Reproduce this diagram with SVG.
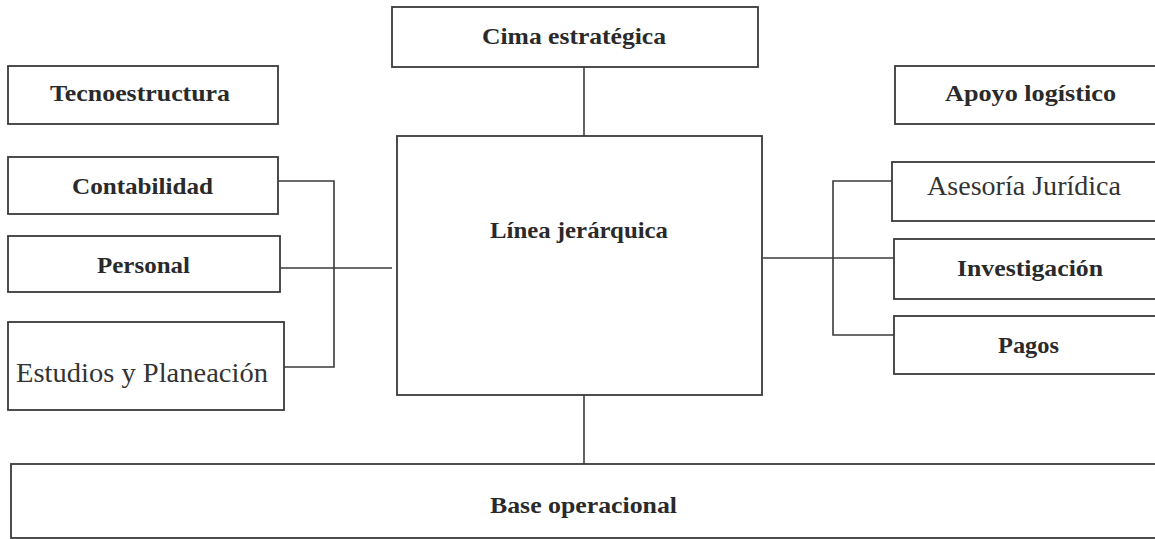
<svg xmlns="http://www.w3.org/2000/svg" width="1155" height="539" viewBox="0 0 1155 539">
<style>
.box{fill:#fff;stroke:#3a3a3a;stroke-width:1.8}
.ln{fill:none;stroke:#3a3a3a;stroke-width:1.6}
.b{font-family:"Liberation Serif",serif;font-weight:bold;font-size:24px;fill:#2a2a2a;text-anchor:middle}
.r{font-family:"Liberation Serif",serif;font-size:27px;fill:#333;text-anchor:middle}
</style>
<rect width="1155" height="539" fill="#fff"/>
<g id="connectors">
<path class="ln" d="M584,67V136"/>
<path class="ln" d="M584,395V464"/>
<path class="ln" d="M278,181H334V367H284"/>
<path class="ln" d="M280,268H392"/>
<path class="ln" d="M892,181H833V335H894"/>
<path class="ln" d="M763,258H897"/>
</g>
<g id="cima"><rect class="box" x="392" y="7" width="366" height="60"/><text class="b" x="574" y="44" textLength="184" lengthAdjust="spacingAndGlyphs">Cima estratégica</text></g>
<g id="tecnoestructura"><rect class="box" x="8" y="66" width="270" height="58"/><text class="b" x="140" y="101" textLength="180" lengthAdjust="spacingAndGlyphs">Tecnoestructura</text></g>
<g id="apoyo"><rect class="box" x="895" y="66" width="280" height="58"/><text class="b" x="1030.5" y="101" textLength="171" lengthAdjust="spacingAndGlyphs">Apoyo logístico</text></g>
<g id="contabilidad"><rect class="box" x="8" y="157" width="270" height="57"/><text class="b" x="142.5" y="194" textLength="141" lengthAdjust="spacingAndGlyphs">Contabilidad</text></g>
<g id="personal"><rect class="box" x="8" y="236" width="272" height="56"/><text class="b" x="143.5" y="273" textLength="93" lengthAdjust="spacingAndGlyphs">Personal</text></g>
<g id="estudios"><rect class="box" x="8" y="322" width="276" height="88"/><text class="r" x="142" y="382" textLength="252" lengthAdjust="spacingAndGlyphs">Estudios y Planeación</text></g>
<g id="linea"><rect class="box" x="397" y="136" width="365" height="259"/><text class="b" x="579" y="238" textLength="178" lengthAdjust="spacingAndGlyphs">Línea jerárquica</text></g>
<g id="asesoria"><rect class="box" x="892" y="162" width="280" height="59"/><text class="r" x="1024" y="195" textLength="194" lengthAdjust="spacingAndGlyphs">Asesoría Jurídica</text></g>
<g id="investigacion"><rect class="box" x="894" y="239" width="280" height="60"/><text class="b" x="1030" y="276" textLength="146" lengthAdjust="spacingAndGlyphs">Investigación</text></g>
<g id="pagos"><rect class="box" x="894" y="316" width="280" height="58"/><text class="b" x="1028.5" y="353" textLength="61" lengthAdjust="spacingAndGlyphs">Pagos</text></g>
<g id="base"><rect class="box" x="11" y="464" width="1160" height="74"/><text class="b" x="583.5" y="513" textLength="187" lengthAdjust="spacingAndGlyphs">Base operacional</text></g>
</svg>
